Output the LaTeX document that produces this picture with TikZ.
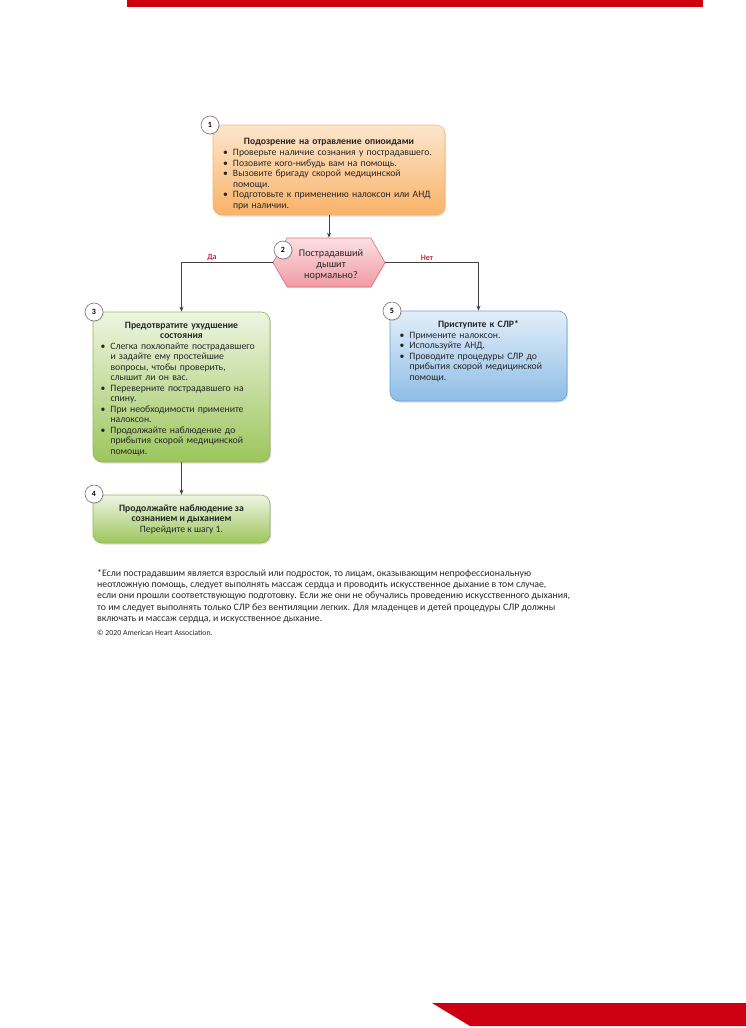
\documentclass[tikz,border=0pt]{standalone}
\usepackage{fontspec}
\setmainfont{Carlito}
\usetikzlibrary{shadows,arrows.meta,shapes.symbols}
\definecolor{aared}{HTML}{CC0011}
\definecolor{orT}{HTML}{FDE6CC}
\definecolor{orB}{HTML}{F9B268}
\definecolor{orD}{HTML}{F5B478}
\definecolor{grT}{HTML}{EEF5E2}
\definecolor{grB}{HTML}{9CC65C}
\definecolor{grD}{HTML}{8DB755}
\definecolor{blT}{HTML}{E3EEF9}
\definecolor{blB}{HTML}{8EBDE6}
\definecolor{blD}{HTML}{6A9FD2}
\definecolor{pkT}{HTML}{FCE0E2}
\definecolor{pkB}{HTML}{EF9AA4}
\definecolor{pkD}{HTML}{D9707C}
\definecolor{lineg}{HTML}{404040}
\definecolor{labred}{HTML}{D0263A}
\newcommand\nl{\hfil\break}
\newcommand\bitem[1]{\par\noindent\hangindent=10pt\hangafter=1\makebox[10pt][l]{\textbullet}#1\par}
\begin{document}
\begin{tikzpicture}[x=1pt,y=-1pt,
  boxbase/.style={rectangle,rounded corners=9pt,line width=0.6pt,inner sep=0pt,
     drop shadow={opacity=0.25,shadow xshift=1.2pt,shadow yshift=-1.5pt}},
  obox/.style={boxbase,draw=orD,top color=orT,bottom color=orB},
  gbox/.style={boxbase,draw=grD,top color=grT,bottom color=grB},
  bbox/.style={boxbase,draw=blD,top color=blT,bottom color=blB},
  txt/.style={anchor=north,inner sep=0pt,font=\fontsize{9.7}{10.5}\selectfont,text=black!85},
  num/.style={circle,draw=black!55,fill=white,line width=0.6pt,minimum size=18pt,inner sep=0pt,
     font=\fontsize{8}{9}\selectfont\bfseries,
     drop shadow={opacity=0.2,shadow xshift=0.8pt,shadow yshift=-1pt}},
  conn/.style={draw=lineg,line width=0.8pt},
  arr/.style={conn,-{Stealth[length=5pt,width=4pt]}},
  lab/.style={font=\fontsize{8}{9}\selectfont\bfseries,text=labred}]
\useasboundingbox (0,0) rectangle (746,1028);
% bars
\fill[aared] (127,0) rectangle (703,7);
\fill[aared] (432,1003) -- (746,1003) -- (746,1026) -- (470,1026) -- cycle;

% box 1
\node[obox,minimum width=232pt,minimum height=90pt] (b1) at (329,170) {};
\node[txt,text width=212pt] (t1) at (329,138) {%
{\centering\bfseries Подозрение на отравление опиоидами\par}\vspace{1pt}
\raggedright
\bitem{Проверьте наличие сознания у пострадавшего.}
\bitem{Позовите кого-нибудь вам на помощь.}
\bitem{Вызовите бригаду скорой медицинской\nl помощи.}
\bitem{Подготовьте к применению налоксон или АНД\nl при наличии.}};
\node[num] (n1) at (210,125) {1};

% hexagon
\node[signal,signal to=west and east,signal pointer angle=120,line width=0.6pt,
  draw=pkD,top color=pkT,bottom color=pkB,minimum width=112pt,minimum height=49pt,inner sep=0pt,
  drop shadow={opacity=0.2,shadow xshift=1pt,shadow yshift=-1.2pt}] (hx) at (329,262.5) {};
\node[txt,align=center,font=\fontsize{10.2}{11}\selectfont] (t2) at (331,249.5) {Пострадавший\\дышит\\нормально?};
\node[num] (n2) at (283,250) {2};

% box 3
\node[gbox,minimum width=177pt,minimum height=150pt] (b3) at (181.5,387) {};
\node[txt,text width=162pt] (t3) at (181.5,322) {%
{\centering\bfseries Предотвратите ухудшение\\состояния\par}
\raggedright
\bitem{Слегка похлопайте пострадавшего\nl и задайте ему простейшие\nl вопросы, чтобы проверить,\nl слышит ли он вас.}
\bitem{Переверните пострадавшего на\nl спину.}
\bitem{При необходимости примените\nl налоксон.}
\bitem{Продолжайте наблюдение до\nl прибытия скорой медицинской\nl помощи.}};
\node[num] (n3) at (94,312) {3};

% box 4
\node[gbox,minimum width=177pt,minimum height=48pt] (b4) at (181.5,519) {};
\node[txt,align=center] (t4) at (181.5,504.5) {\textbf{Продолжайте наблюдение за}\\\textbf{сознанием и дыханием}\\Перейдите к шагу 1.};
\node[num] (n4) at (94,494) {4};

% box 5
\node[bbox,minimum width=177pt,minimum height=90pt] (b5) at (478.5,356) {};
\node[txt,text width=158pt] (t5) at (478.5,320.5) {%
{\centering\bfseries Приступите к СЛР*\par}
\raggedright
\bitem{Примените налоксон.}
\bitem{Используйте АНД.}
\bitem{Проводите процедуры СЛР до\nl прибытия скорой медицинской\nl помощи.}};
\node[num] (n5) at (392,311) {5};

% connectors
\draw[arr] (b1.south) -- (hx.north);
\draw[arr] (hx.west) -| (b3.north);
\draw[arr] (hx.east) -| (b5.north);
\draw[arr] (b3.south) -- (b4.north);
\node[lab] (da) at (212,258) {Да};
\node[lab] (net) at (427,258) {Нет};

% footnote
\node[anchor=north west,inner sep=0pt,align=left,font=\fontsize{9.8}{11.3}\selectfont,text=black!85] (fn) at (97,569) {%
*Если пострадавшим является взрослый или подросток, то лицам, оказывающим непрофессиональную\\
неотложную помощь, следует выполнять массаж сердца и проводить искусственное дыхание в том случае,\\
если они прошли соответствующую подготовку. Если же они не обучались проведению искусственного дыхания,\\
то им следует выполнять только СЛР без вентиляции легких. Для младенцев и детей процедуры СЛР должны\\
включать и массаж сердца, и искусственное дыхание.};
\node[anchor=north west,inner sep=0pt,font=\fontsize{7.8}{9}\selectfont,text=black!85] (cp) at (97,629.5) {© 2020 American Heart Association.};
\end{tikzpicture}
\end{document}
